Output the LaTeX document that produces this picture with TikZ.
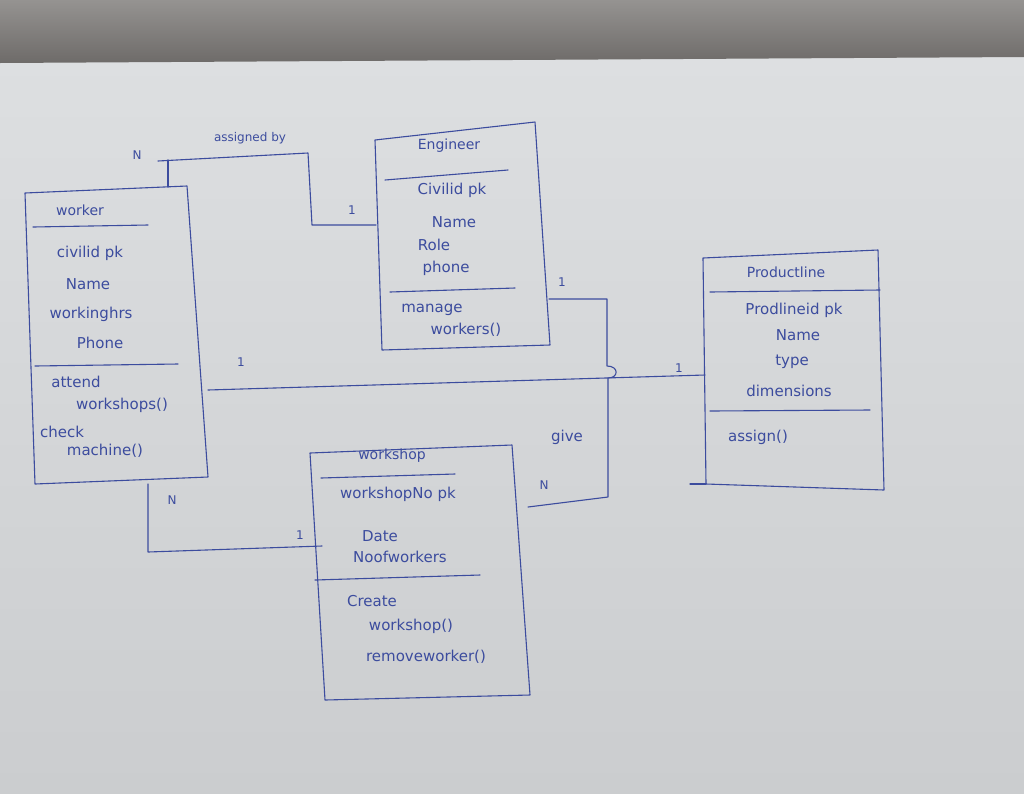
\documentclass[tikz,border=0pt]{standalone}
\usepackage{fontspec}
\setmainfont{DejaVu Sans}
\definecolor{inkc}{HTML}{3C4C9E}
\definecolor{paperA}{HTML}{DDDFE1}
\definecolor{paperB}{HTML}{CBCDCF}
\definecolor{bandA}{HTML}{959391}
\definecolor{bandB}{HTML}{6E6B69}
\begin{document}
\begin{tikzpicture}[x=1pt,y=-1pt,
  ink/.style={draw=inkc, line width=1.1pt, line join=round, line cap=round},
  txt/.style={text=inkc, inner sep=0pt, font=\fontsize{15}{17}\selectfont},
  ttl/.style={txt, font=\fontsize{14}{16}\selectfont},
  mult/.style={txt, font=\fontsize{12}{14}\selectfont}]
\useasboundingbox (0,0) rectangle (1024,793);
% background
\shade[top color=paperA, bottom color=paperB] (0,55) rectangle (1024,793);
\shade[top color=bandA, bottom color=bandB] (0,0) -- (1024,0) -- (1024,57) -- (0,63) -- cycle;

% ---------- Worker ----------
\coordinate (wTL) at (25,193);
\coordinate (wTR) at (187,186);
\coordinate (wBR) at (208,477);
\coordinate (wBL) at (35,484);
\draw[ink] (wTL) -- (wTR) -- (wBR) -- (wBL) -- cycle;
\draw[ink] (33,227) -- (148,225);
\draw[ink] (35,366) -- (178,364);
\node[ttl] (wT) at (80,210) {worker};
\node[txt] (w1) at (90,253) {civilid pk};
\node[txt] (w2) at (88,284) {Name};
\node[txt] (w3) at (91,314) {workinghrs};
\node[txt] (w4) at (100,343) {Phone};
\node[txt] (w5) at (76,382) {attend};
\node[txt] (w6) at (122,405) {workshops()};
\node[txt] (w7) at (62,432) {check};
\node[txt] (w8) at (105,451) {machine()};

% ---------- Engineer ----------
\coordinate (eTL) at (375,140);
\coordinate (eTR) at (535,122);
\coordinate (eBR) at (550,345);
\coordinate (eBL) at (382,350);
\draw[ink] (eTL) -- (eTR) -- (eBR) -- (eBL) -- cycle;
\draw[ink] (385,180) -- (508,170);
\draw[ink] (390,292) -- (515,288);
\node[ttl] (eT) at (449,146) {Engineer};
\node[txt] (e1) at (452,190) {Civilid pk};
\node[txt] (e2) at (454,222) {Name};
\node[txt] (e3) at (434,245) {Role};
\node[txt] (e4) at (446,268) {phone};
\node[txt] (e5) at (432,310) {manage};
\node[txt] (e6) at (466,330) {workers()};

% ---------- Productline ----------
\coordinate (pTL) at (703,258);
\coordinate (pTR) at (878,250);
\coordinate (pBR) at (884,490);
\coordinate (pBL) at (706,484);
\draw[ink] (pTL) -- (pTR) -- (pBR) -- (pBL) -- cycle;
\draw[ink] (690,484) -- (pBL);
\draw[ink] (710,292) -- (880,290);
\draw[ink] (710,411) -- (870,410);
\node[ttl] (pT) at (786,272) {Productline};
\node[txt] (p1) at (794,310) {Prodlineid pk};
\node[txt] (p2) at (798,335) {Name};
\node[txt] (p3) at (792,362) {type};
\node[txt] (p4) at (789,391) {dimensions};
\node[txt] (p5) at (758,437) {assign()};

% ---------- Workshop ----------
\coordinate (sTL) at (310,453);
\coordinate (sTR) at (512,445);
\coordinate (sBR) at (530,695);
\coordinate (sBL) at (325,700);
\draw[ink] (sTL) -- (sTR) -- (sBR) -- (sBL) -- cycle;
\draw[ink] (321,478) -- (455,474);
\draw[ink] (315,580) -- (480,575);
\node[ttl] (sT) at (392,456) {workshop};
\node[txt] (s1) at (398,494) {workshopNo pk};
\node[txt] (s2) at (380,536) {Date};
\node[txt] (s3) at (400,557) {Noofworkers};
\node[txt] (s4) at (372,601) {Create};
\node[txt] (s5) at (411,626) {workshop()};
\node[txt] (s6) at (426,657) {removeworker()};

% ---------- Connectors ----------
\coordinate (wTop) at (168,187);
\coordinate (eLeft) at (376,225);
\draw[ink] (wTop) -- (168,160);
\draw[ink] (158,161) -- (308,153) -- (312,225) -- (eLeft);
\node[mult] (m1) at (137,155) {N};
\node[txt, font=\fontsize{12}{14}\selectfont] (l1) at (250,138) {assigned by};
\node[mult] (m2) at (352,210) {1};

\coordinate (eRight) at (549,299);
\coordinate (sRight) at (528,507);
\draw[ink] (eRight) -- (607,299) -- (607,366)
  .. controls (619,366) and (619,378) .. (608,378) -- (608,497) -- (sRight);
\node[mult] (m3) at (562,282) {1};
\node[txt] (l2) at (567,437) {give};
\node[mult] (m4) at (544,485) {N};

\coordinate (wRight) at (208,390);
\coordinate (pLeft) at (705,375);
\draw[ink] (wRight) -- (pLeft);
\node[mult] (m5) at (241,362) {1};
\node[mult] (m6) at (679,368) {1};

\coordinate (wBot) at (148,484);
\coordinate (sLeft) at (322,546);
\draw[ink] (wBot) -- (148,552) -- (sLeft);
\node[mult] (m7) at (172,500) {N};
\node[mult] (m8) at (300,535) {1};
\end{tikzpicture}
\end{document}
